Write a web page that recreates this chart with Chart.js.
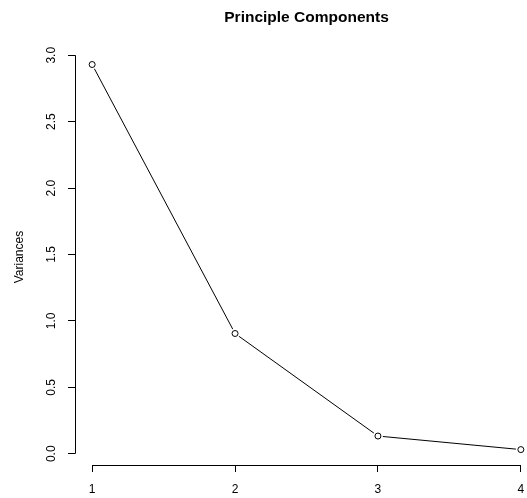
<!DOCTYPE html>
<html>
<head>
<meta charset="utf-8">
<script src="https://cdn.jsdelivr.net/npm/chart.js@4"></script>
<style>
  html, body { margin: 0; padding: 0; background: #fff; overflow: hidden; }
</style>
</head>
<body>
<canvas id="myChart" width="548" height="498"></canvas>
<script>
// data
const components = [1, 2, 3, 4];
const variances = [2.93, 0.905, 0.133, 0.031];
const xTicks = [1, 2, 3, 4];
const yTicks = [0, 0.5, 1, 1.5, 2, 2.5, 3];

const FONT = "'Liberation Sans', Arial, Helvetica, sans-serif";

const points = components.map((c, i) => ({ x: c, y: variances[i] }));

// R style axes: the line only runs from first to last tick, y labels rotated
const rAxes = {
    id: 'rAxes',
    afterDraw(chart) {
        const ctx = chart.ctx;
        const xs = chart.scales.x, ys = chart.scales.y;
        const area = chart.chartArea;
        ctx.save();
        ctx.strokeStyle = '#000';
        ctx.lineWidth = 1;
        ctx.beginPath();
        ctx.moveTo(xs.getPixelForValue(xTicks[0]), Math.round(area.bottom) + 0.5);
        ctx.lineTo(xs.getPixelForValue(xTicks[xTicks.length - 1]), Math.round(area.bottom) + 0.5);
        ctx.moveTo(Math.round(area.left) + 0.5, ys.getPixelForValue(yTicks[0]));
        ctx.lineTo(Math.round(area.left) + 0.5, ys.getPixelForValue(yTicks[yTicks.length - 1]));
        ctx.stroke();

        ctx.fillStyle = '#000';
        ctx.font = '12px ' + FONT;
        ctx.textAlign = 'center';
        ctx.textBaseline = 'middle';
        yTicks.forEach(v => {
            ctx.save();
            ctx.translate(area.left - 23, ys.getPixelForValue(v));
            ctx.rotate(-Math.PI / 2);
            ctx.fillText(v.toFixed(1), 0, 0);
            ctx.restore();
        });
        ctx.restore();
    }
};

let myChart = document.getElementById('myChart').getContext('2d');

let screeChart = new Chart(myChart, {
    type: 'line',
    data: {
        datasets: [{
            // line with white halo around each point (gaps like type = "b")
            data: points,
            order: 2,
            borderColor: '#000',
            borderWidth: 1,
            tension: 0,
            pointRadius: 5,
            pointBackgroundColor: '#fff',
            pointBorderColor: '#fff',
            pointBorderWidth: 0,
        }, {
            data: points,
            order: 1,
            showLine: false,
            pointRadius: 3,
            pointBackgroundColor: 'rgba(255,255,255,0)',
            pointBorderColor: '#000',
            pointBorderWidth: 1,
        }]
    },
    options: {
        responsive: false,
        animation: false,
        events: [],
        layout: {
            padding: { left: 0, right: 10, top: 0, bottom: 0 }
        },
        plugins: {
            legend: { display: false },
            tooltip: { enabled: false },
            title: {
                display: true,
                fullSize: false,
                text: 'Principle Components',
                color: '#000',
                font: { family: FONT, size: 15.5, weight: 'bold', lineHeight: 1.2 },
                padding: { top: 8, bottom: 22.5 }
            }
        },
        scales: {
            x: {
                type: 'linear',
                min: 0.88,
                max: 4.12,
                afterBuildTicks: s => { s.ticks = xTicks.map(v => ({ value: v })); },
                afterFit: s => { s.height = 33; },
                border: { display: false },
                grid: {
                    drawOnChartArea: false,
                    drawTicks: true,
                    tickLength: 7,
                    color: '#000',
                    lineWidth: 1
                },
                ticks: {
                    color: '#000',
                    font: { family: FONT, size: 12 },
                    padding: 10,
                    maxRotation: 0,
                    callback: v => String(v)
                }
            },
            y: {
                type: 'linear',
                min: -0.085,
                max: 3.046,
                afterBuildTicks: s => { s.ticks = yTicks.map(v => ({ value: v })); },
                afterFit: s => { s.width = 75; },
                border: { display: false },
                grid: {
                    drawOnChartArea: false,
                    drawTicks: true,
                    tickLength: 7,
                    color: '#000',
                    lineWidth: 1
                },
                ticks: {
                    display: false
                },
                title: {
                    display: true,
                    text: 'Variances',
                    color: '#000',
                    font: { family: FONT, size: 12, lineHeight: 1.2 },
                    padding: { top: 12, bottom: 0 }
                }
            }
        }
    },
    plugins: [rAxes]
});
</script>
</body>
</html>
